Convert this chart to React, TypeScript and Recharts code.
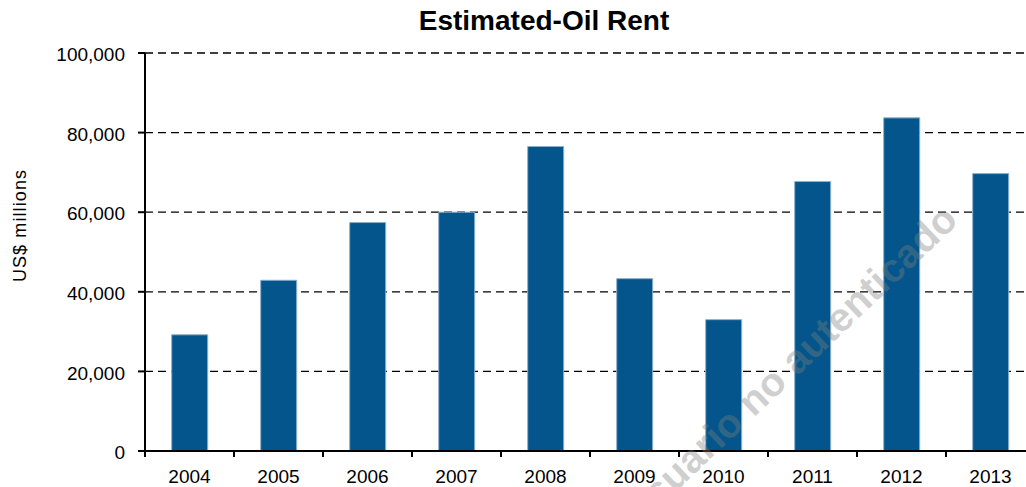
import React from 'react';
import { BarChart, Bar, XAxis, YAxis, CartesianGrid } from 'recharts';

const years = ['2004', '2005', '2006', '2007', '2008', '2009', '2010', '2011', '2012', '2013'];
const oilRent = [29200, 42900, 57400, 60000, 76500, 43300, 33000, 67700, 83700, 69700];
const yTicks = [0, 20000, 40000, 60000, 80000, 100000];

const chartTitle = 'Estimated-Oil Rent';
const yAxisTitle = 'US$ millions';
const watermark = 'Usuario no autenticado';

const data = years.map((year, i) => ({ year, rent: oilRent[i] }));

const FONT = '"Liberation Sans", Arial, Helvetica, sans-serif';

function YearTick(props: any) {
  const { x, y, payload } = props;
  const half = typeof payload.offset === 'number' ? payload.offset : 0;
  return (
    <g>
      <line x1={x - half} x2={x - half} y1={y} y2={y + 6} stroke="#000" strokeWidth={2} />
      <text x={x} y={y + 32} textAnchor="middle" fontSize={19} fill="#000" fontFamily={FONT}>
        {payload.value}
      </text>
    </g>
  );
}

export default function App() {
  return (
    <div
      style={{
        position: 'fixed',
        left: 0,
        top: 0,
        width: 1026,
        height: 487,
        overflow: 'hidden',
        background: '#fff',
        fontFamily: FONT,
      }}
    >
      <div style={{ position: 'absolute', left: 0, top: 0 }}>
        <BarChart
          width={1050}
          height={487}
          data={data}
          margin={{ top: 53, right: 15, left: 0, bottom: 0 }}
          barCategoryGap="30%"
        >
          <CartesianGrid vertical={false} stroke="#000" strokeWidth={1.3} strokeDasharray="8 5" />
          <XAxis
            dataKey="year"
            height={36}
            tickSize={0}
            tickMargin={0}
            tickLine={false}
            interval={0}
            axisLine={{ stroke: '#000', strokeWidth: 2 }}
            tick={<YearTick />}
          />
          <YAxis
            width={145}
            domain={[0, 100000]}
            ticks={yTicks}
            interval={0}
            tickSize={7}
            tickMargin={13}
            tickLine={{ stroke: '#000', strokeWidth: 2 }}
            axisLine={{ stroke: '#000', strokeWidth: 2 }}
            tick={{ fontSize: 19, fill: '#000', fontFamily: FONT, dy: 1.5 }}
            tickFormatter={(v: number) => v.toLocaleString('en-US')}
          />
          <Bar
            dataKey="rent"
            fill="#03558B"
            stroke="#8db0cc"
            strokeWidth={1}
            isAnimationActive={false}
          />
        </BarChart>
      </div>
      <svg
        width={1026}
        height={487}
        style={{ position: 'absolute', left: 0, top: 0, pointerEvents: 'none' }}
      >
        <text x={544} y={30} textAnchor="middle" fontSize={28} fontWeight="bold" fill="#000" fontFamily={FONT}>
          {chartTitle}
        </text>
        <text
          x={26}
          y={225.5}
          transform="rotate(-90 26 225.5)"
          textAnchor="middle"
          fontSize={18}
          letterSpacing={1.1}
          fill="#000"
          fontFamily={FONT}
        >
          {yAxisTitle}
        </text>
        <text
          x={789}
          y={365}
          transform="rotate(-43.5 789 365)"
          textAnchor="middle"
          dominantBaseline="central"
          fontSize={40}
          fontWeight="bold"
          fill="#808080"
          fillOpacity={0.38}
          fontFamily={FONT}
        >
          {watermark}
        </text>
      </svg>
    </div>
  );
}
